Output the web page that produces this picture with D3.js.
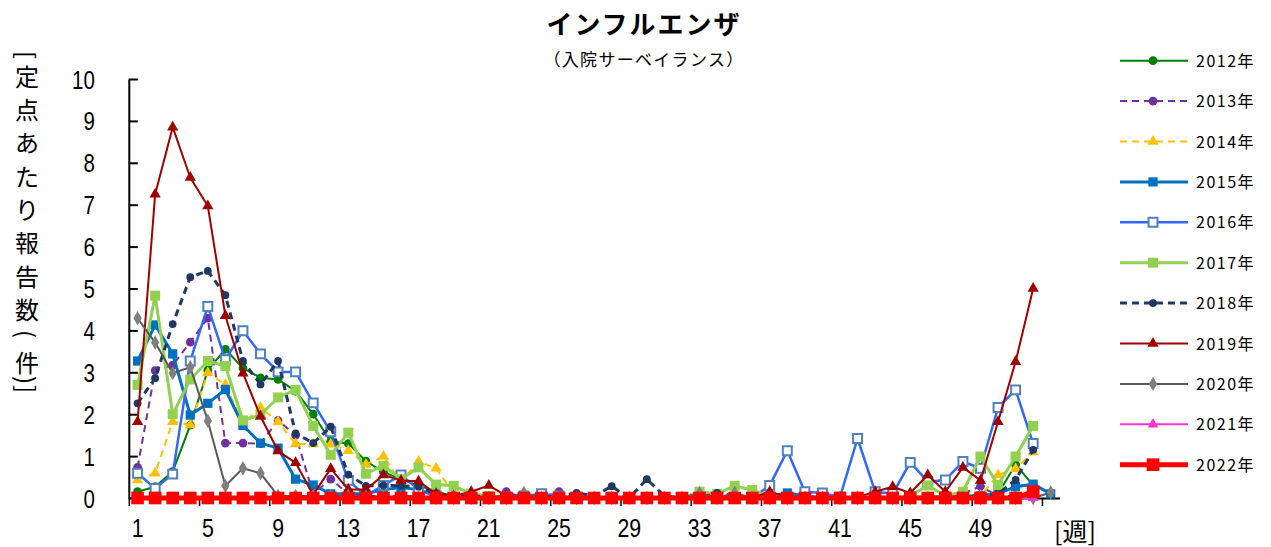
<!DOCTYPE html>
<html>
<head>
<meta charset="utf-8">
<script src="https://cdn.jsdelivr.net/npm/d3@7"></script>
<style>
  html, body { margin: 0; padding: 0; background: #fff; }
  svg { display: block; }
</style>
</head>
<body>
<svg id="chart" width="1271" height="547"></svg>
<script>
// Weekly influenza hospitalisation reports per sentinel site, 2012–2022
const weeks = d3.range(1, 54);
const yTicks = [0, 1, 2, 3, 4, 5, 6, 7, 8, 9, 10];
const xTickLabels = [1, 5, 9, 13, 17, 21, 25, 29, 33, 37, 41, 45, 49];

const years = ["2012年", "2013年", "2014年", "2015年", "2016年", "2017年",
               "2018年", "2019年", "2020年", "2021年", "2022年"];

const v2012 = [0.15,0.27,0.63,1.74,3.05,3.55,3.10,2.87,2.83,2.55, 2.00,1.35,1.30,0.88,0.62,0.45,0.30,0.15,0.05,0.03,
               0.02,0.02,0.02,0.02,0.02,0.02,0.02,0.02,0.02,0.02, 0.02,0.02,0.05,0.03,0.02,0.02,0.02,0.02,0.02,0.02,
               0.02,0.02,0.02,0.02,0.03,0.03,0.05,0.05,0.08,0.10, 0.80,0.30];
const v2013 = [0.73,3.04,3.17,3.72,4.29,1.31,1.31,1.30,1.85,1.50, 0.10,0.45,0.10,0.05,0.05,0.05,0.05,0.03,0,0,
               0,0.15,0,0,0.15,0,0,0,0,0, 0,0,0,0,0,0,0,0,0,0,
               0,0,0,0,0,0,0,0.10,0.28,0.05, 0.05,0.05];
const v2014 = [0.43,0.59,1.82,1.74,2.99,2.70,1.78,2.16,1.82,1.29, 1.29,1.28,1.13,0.80,0.99,0.39,0.87,0.71,0.10,0.05,
               0,0,0,0,0,0,0,0,0,0, 0,0,0,0,0,0,0,0,0,0,
               0,0,0,0,0,0,0,0,0.05,0.55, 0.70,1.10];
const v2015 = [3.27,4.13,3.44,1.98,2.26,2.59,1.73,1.31,1.19,0.45, 0.31,0.10,0.10,0.10,0.20,0.25,0.20,0.05,0.02,0,
               0,0,0,0,0,0,0,0,0,0, 0,0,0,0,0,0,0.05,0.12,0.05,0,
               0,0,0,0,0,0,0,0,0.05,0.10, 0.27,0.33,0.10];
const v2016 = [0.59,0.23,0.57,3.27,4.57,3.30,3.99,3.44,3.01,3.01, 2.27,1.58,0.42,0.05,0.30,0.55,0.20,0.05,0,0,
               0,0,0.05,0.10,0.05,0,0,0,0,0, 0,0,0,0,0,0,0.30,1.13,0.15,0.12,
               0.02,1.42,0.15,0.10,0.85,0.39,0.43,0.87,0.71,2.16, 2.58,1.30];
const v2017 = [2.70,4.83,2.00,2.83,3.27,3.15,1.85,1.98,2.40,2.58, 1.72,1.03,1.56,0.58,0.77,0.45,0.73,0.32,0.29,0.10,
               0.05,0.03,0,0,0,0,0,0,0,0, 0,0,0.15,0.10,0.29,0.19,0.05,0,0,0,
               0,0,0,0,0.05,0.30,0.05,0.15,0.99,0.31, 0.99,1.72];
const v2018 = [2.26,2.86,4.15,5.27,5.42,4.84,3.27,2.71,3.27,1.54, 1.31,1.70,0.56,0.29,0.30,0.29,0.27,0.10,0.05,0.05,
               0.03,0.03,0.02,0.02,0.05,0.12,0.05,0.28,0,0.45, 0.05,0,0,0.12,0.05,0,0,0,0,0,
               0,0,0,0,0,0,0,0,0.05,0.10, 0.43,1.15];
const v2019 = [1.82,7.25,8.85,7.65,6.97,4.35,2.98,1.95,1.12,0.84, 0.08,0.70,0.20,0.20,0.55,0.42,0.40,0.10,0.05,0.15,
               0.30,0.05,0,0,0,0,0,0,0,0, 0,0,0,0,0,0,0.15,0.02,0,0,
               0,0.02,0.15,0.27,0.12,0.55,0.15,0.73,0.42,1.82, 3.25,5.00];
const v2020 = [4.29,3.71,2.98,3.12,1.84,0.29,0.71,0.59,0.05,0.05, 0.05,0.05,0.05,0.03,0.03,0.02,0.02,0,0,0,
               0,0,0.12,0,0,0,0,0,0,0, 0,0,0.12,0,0.12,0,0,0,0,0,
               0,0,0,0,0,0,0,0,0,0, 0,0,0.13];
const v2021 = [0,0,0,0,0,0,0,0,0,0, 0,0,0,0,0,0,0,0,0,0,
               0,0,0,0,0,0,0,0,0,0, 0,0,0.03,0,0,0,0,0,0,0,
               0,0,0,0,0,0,0,0,0,0, 0,0];
const v2022 = [0,0,0,0,0,0,0,0,0,0, 0,0,0,0,0,0,0,0,0,0,
               0,0,0,0,0,0,0,0,0,0, 0,0,0,0,0,0,0,0,0,0,
               0,0,0,0,0,0,0,0,0,0, 0,0.15];

const seriesValues = [v2012, v2013, v2014, v2015, v2016, v2017, v2018, v2019, v2020, v2021, v2022];

// Visual style per year
const styles = [
  { line: "#008000", width: 2,   dash: null,  shape: d3.symbolCircle,   size: 60,  fill: "#008000", stroke: "none" },
  { line: "#7030A0", width: 2,   dash: "7,5", shape: d3.symbolCircle,   size: 60,  fill: "#7030A0", stroke: "none" },
  { line: "#FFC000", width: 2,   dash: "7,5", shape: d3.symbolTriangle, size: 55,  fill: "#FFC000", stroke: "none" },
  { line: "#0070C0", width: 3,   dash: null,  shape: d3.symbolSquare,   size: 85,  fill: "#0070C0", stroke: "none" },
  { line: "#3366FF", width: 2.5, dash: null,  shape: d3.symbolSquare,   size: 80,  fill: "#ffffff", stroke: "#4F81BD", sw: 2 },
  { line: "#92D050", width: 3,   dash: null,  shape: d3.symbolSquare,   size: 100, fill: "#92D050", stroke: "none" },
  { line: "#1F3864", width: 3,   dash: "7,5", shape: d3.symbolCircle,   size: 48,  fill: "#1F3864", stroke: "none" },
  { line: "#A00000", width: 2,   dash: null,  shape: d3.symbolTriangle, size: 55,  fill: "#A00000", stroke: "none" },
  { line: "#595959", width: 2,   dash: null,  shape: d3.symbolDiamond,  size: 60,  fill: "#7F7F7F", stroke: "none" },
  { line: "#FF33CC", width: 2,   dash: null,  shape: d3.symbolTriangle, size: 50,  fill: "#FF33CC", stroke: "none" },
  { line: "#FF0000", width: 5,   dash: null,  shape: d3.symbolSquare,   size: 160, fill: "#FF0000", stroke: "none" }
];

const svg = d3.select("#chart");
const numFont = "'Liberation Sans', Arial, sans-serif";
const jpFont = "'Noto Sans CJK JP', 'Noto Sans', sans-serif";

const plot = { left: 128.8, right: 1059.5, top: 79, bottom: 498 };

const x = d3.scaleBand().domain(weeks).range([plot.left, plot.right]).padding(0);
const xEdge = d3.scaleLinear().domain([0, weeks.length]).range([plot.left, plot.right]);
const y = d3.scaleLinear().domain([0, 10]).range([plot.bottom, plot.top]);
const cx = w => x(w) + x.bandwidth() / 2;

// Title
svg.append("text")
  .attr("x", 644).attr("y", 34)
  .attr("text-anchor", "middle")
  .attr("font-family", jpFont).attr("font-size", 26).attr("font-weight", "bold")
  .attr("letter-spacing", 2)
  .text("インフルエンザ");
svg.append("text")
  .attr("x", 644).attr("y", 66)
  .attr("text-anchor", "middle")
  .attr("font-family", jpFont).attr("font-size", 17)
  .attr("letter-spacing", 1.3)
  .text("（入院サーベイランス）");

// Vertical axis title, one glyph at a time
const yTitle = ["[", "定", "点", "あ", "た", "り", "報", "告", "数", "(", "件", ")", "]"];
const yTitlePos = [55, 75, 108.5, 141.5, 175, 208, 241.5, 275, 308, 334, 361, 380, 389];
const rotated = new Set(["[", "]", "(", ")"]);
yTitle.forEach((ch, i) => {
  const t = svg.append("text")
    .attr("font-family", jpFont).attr("font-size", 24)
    .attr("text-anchor", "middle").attr("dominant-baseline", "central")
    .text(ch);
  if (rotated.has(ch)) {
    t.attr("transform", `translate(27,${yTitlePos[i]}) rotate(90)`);
  } else {
    t.attr("x", 27).attr("y", yTitlePos[i]);
  }
});

// Y axis: ticks point into the plot
const yAxis = svg.append("g")
  .attr("transform", `translate(${plot.left},0)`)
  .call(d3.axisLeft(y).tickValues(yTicks).tickSize(-9).tickSizeOuter(0).tickPadding(34));
yAxis.select(".domain").attr("stroke", "#000").attr("stroke-width", 2);
yAxis.selectAll(".tick line").attr("stroke", "#000").attr("stroke-width", 2);
yAxis.selectAll(".tick text")
  .attr("font-family", numFont).attr("font-size", 25)
  .attr("fill", "#000")
  .attr("dy", "0.36em")
  .attr("x", -34 / 0.82)
  .attr("transform", "scale(0.82,1)");

// X axis: tick marks on week boundaries, labels centred on weeks
const xTickAxis = svg.append("g")
  .attr("transform", `translate(0,${plot.bottom})`)
  .call(d3.axisBottom(xEdge).tickValues(d3.range(0, 53, 4)).tickSize(8).tickSizeOuter(0).tickFormat(""));
xTickAxis.select(".domain").attr("stroke", "#000").attr("stroke-width", 2);
xTickAxis.selectAll(".tick line").attr("stroke", "#000").attr("stroke-width", 1.5);

const xLabelAxis = svg.append("g")
  .attr("transform", `translate(0,${plot.bottom})`)
  .call(d3.axisBottom(x).tickValues(xTickLabels).tickSize(0).tickPadding(0));
xLabelAxis.select(".domain").remove();
xLabelAxis.selectAll(".tick text")
  .attr("font-family", numFont).attr("font-size", 26)
  .attr("fill", "#000")
  .attr("dy", 0).attr("y", 39)
  .attr("transform", "scale(0.82,1)")
  .attr("x", 0);
// keep label centres in place after the horizontal squeeze
xLabelAxis.selectAll(".tick").each(function (d) {
  d3.select(this).attr("transform", `translate(${cx(d)},0)`);
});

svg.append("text")
  .attr("x", 1075).attr("y", 541)
  .attr("text-anchor", "middle")
  .attr("font-family", jpFont).attr("font-size", 25)
  .text("[週]");

// Series lines and markers
const line = d3.line().x(d => cx(d.w)).y(d => y(d.v));

seriesValues.forEach((vals, i) => {
  const st = styles[i];
  const pts = vals.map((v, k) => ({ w: weeks[k], v }));
  const g = svg.append("g");
  g.append("path")
    .datum(pts)
    .attr("d", line)
    .attr("fill", "none")
    .attr("stroke", st.line)
    .attr("stroke-width", st.width)
    .attr("stroke-dasharray", st.dash)
    .attr("stroke-linejoin", "round");
  g.selectAll("path.mk")
    .data(pts)
    .join("path")
    .attr("class", "mk")
    .attr("transform", d => `translate(${cx(d.w)},${y(d.v)})`)
    .attr("d", d3.symbol().type(st.shape).size(st.size))
    .attr("fill", st.fill)
    .attr("stroke", st.stroke)
    .attr("stroke-width", st.sw || 0);
});

// Legend
const legend = svg.append("g");
years.forEach((name, i) => {
  const st = styles[i];
  const ly = 60.7 + i * 40.4;
  legend.append("line")
    .attr("x1", 1120).attr("x2", 1188).attr("y1", ly).attr("y2", ly)
    .attr("stroke", st.line).attr("stroke-width", st.width)
    .attr("stroke-dasharray", st.dash);
  legend.append("path")
    .attr("transform", `translate(1153,${ly})`)
    .attr("d", d3.symbol().type(st.shape).size(st.size))
    .attr("fill", st.fill).attr("stroke", st.stroke).attr("stroke-width", st.sw || 0);
  legend.append("text")
    .attr("x", 1196).attr("y", ly + 6)
    .attr("font-family", jpFont).attr("font-size", 16)
    .attr("letter-spacing", 1.5)
    .text(name);
});
</script>
</body>
</html>
